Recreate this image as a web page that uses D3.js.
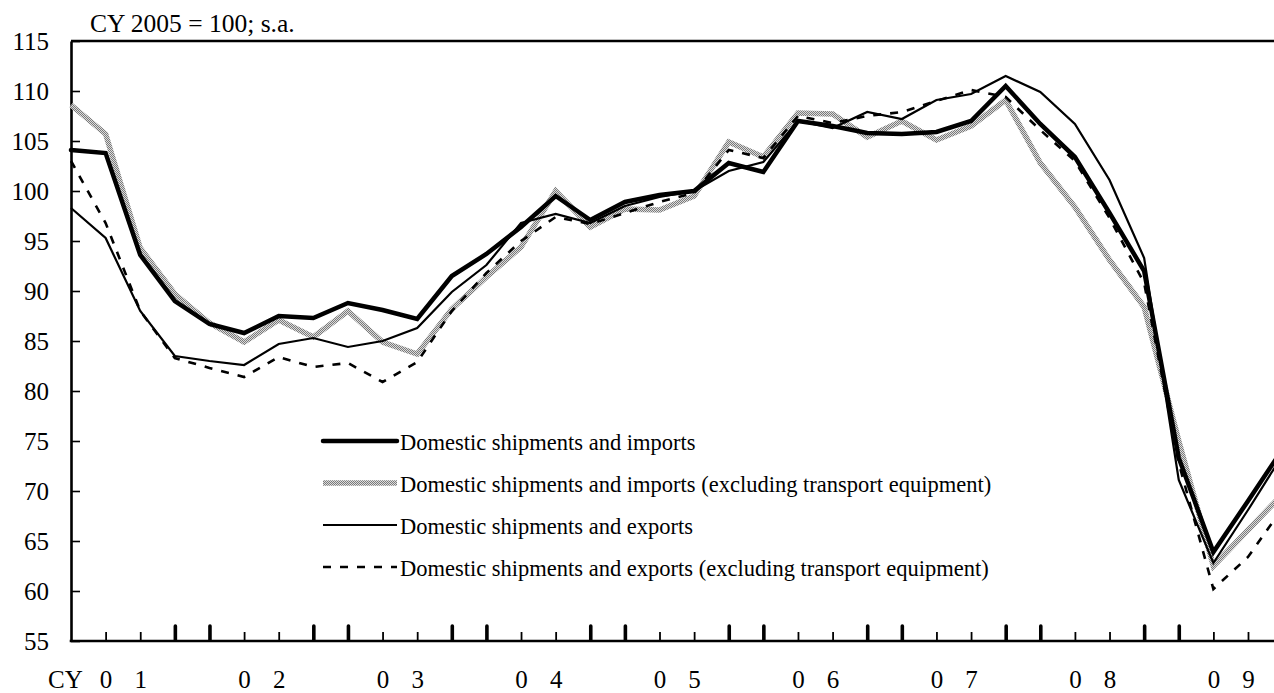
<!DOCTYPE html>
<html>
<head>
<meta charset="utf-8">
<script src="https://cdn.jsdelivr.net/npm/d3@7"></script>
<style>
  html, body { margin: 0; padding: 0; background: #fff; }
  svg { display: block; }
  text { font-family: "Liberation Serif", "Times New Roman", serif; fill: #000; }
</style>
</head>
<body>
<svg id="chart" width="1274" height="693"></svg>
<script>
// ---- data (quarterly, index 0 = CY2001 Q1) ----
const quarters = d3.range(0, 36);
const impTotal = [104.1,103.8,93.6,89.0,86.7,85.8,87.5,87.3,88.8,88.1,87.2,91.5,93.7,96.4,99.5,97.1,98.9,99.6,100.0,102.8,101.9,107.0,106.5,105.8,105.7,105.9,107.0,110.5,106.7,103.4,97.8,92.0,73.3,63.9,69.0,74.2];
const impExTrans = [108.6,105.7,94.3,89.7,86.8,84.9,87.1,85.4,88.0,84.9,83.7,88.2,91.4,94.4,100.0,96.4,98.2,98.1,99.5,104.9,103.4,107.8,107.7,105.4,107.0,105.1,106.5,109.1,102.8,98.4,93.1,88.4,75.0,62.5,66.1,69.7];
const expTotal = [98.3,95.3,88.0,83.5,83.0,82.6,84.7,85.3,84.4,85.0,86.3,89.9,92.6,96.8,97.7,96.8,98.5,99.4,100.0,102.0,102.9,107.0,106.3,107.9,107.2,109.1,109.7,111.5,109.9,106.7,101.1,93.3,71.1,62.8,68.1,73.6];
const expExTrans = [103.0,96.8,88.0,83.3,82.3,81.4,83.4,82.4,82.8,80.9,82.9,88.0,91.8,95.0,97.4,96.7,97.8,98.9,99.8,104.1,103.3,107.5,106.8,107.5,107.9,109.0,110.1,109.4,106.1,103.0,97.3,90.8,72.8,60.2,63.4,68.3];
const yearLabels = ["01","02","03","04","05","06","07","08","09"];
const yTicks = [55,60,65,70,75,80,85,90,95,100,105,110,115];
const seriesNames = [
  "Domestic shipments and imports",
  "Domestic shipments and imports (excluding transport equipment)",
  "Domestic shipments and exports",
  "Domestic shipments and exports (excluding transport equipment)"
];
const unitLabel = "CY 2005 = 100; s.a.";

// ---- layout ----
const W = 1274, H = 693;
const svg = d3.select("#chart");
const x = d3.scaleLinear().domain([0, 34]).range([71, 1248]);
const y = d3.scaleLinear().domain([55, 115]).range([641, 41]);

// hatch pattern for gray series
const defs = svg.append("defs");
const pat = defs.append("pattern").attr("id", "hatch").attr("patternUnits", "userSpaceOnUse")
  .attr("width", 2).attr("height", 2);
pat.append("rect").attr("width", 2).attr("height", 2).attr("fill", "#dcdcdc");
pat.append("rect").attr("x", 0).attr("y", 0).attr("width", 1).attr("height", 1).attr("fill", "#7a7a7a");
pat.append("rect").attr("x", 1).attr("y", 1).attr("width", 1).attr("height", 1).attr("fill", "#7a7a7a");

const styles = [
  { stroke: "#000", width: 4.5, dash: null, cap: "round" },
  { stroke: "url(#hatch)", width: 5.5, dash: null, cap: "butt" },
  { stroke: "#000", width: 2.2, dash: null, cap: "butt" },
  { stroke: "#000", width: 2.6, dash: "8,9", cap: "butt" }
];
const allSeries = [impTotal, impExTrans, expTotal, expExTrans];

// frame: top border
svg.append("line").attr("x1", x(0)).attr("x2", W + 5).attr("y1", y(115)).attr("y2", y(115))
  .attr("stroke", "#000").attr("stroke-width", 2.4);

// y axis
const yAxis = d3.axisLeft(y).tickValues(yTicks).tickSizeInner(-9).tickSizeOuter(0).tickPadding(22);
const gy = svg.append("g").attr("transform", `translate(${x(0)},0)`).call(yAxis);
gy.select(".domain").attr("stroke-width", 2.6);
gy.selectAll(".tick line").attr("stroke-width", 1.6);
gy.selectAll(".tick text").attr("font-size", 25).attr("font-family", "Liberation Serif").attr("fill", "#000");

// lines
const line = d3.line().x((d, i) => x(i)).y(d => y(d));
const drawOrder = [1, 3, 2, 0];
drawOrder.forEach(k => {
  const s = styles[k];
  svg.append("path").datum(allSeries[k]).attr("d", line)
    .attr("fill", "none").attr("stroke", s.stroke).attr("stroke-width", s.width)
    .attr("stroke-linejoin", "miter").attr("stroke-linecap", s.cap)
    .attr("stroke-dasharray", s.dash);
});

// x axis: thin and thick ticks
const thinTicks = quarters.filter(i => i > 0 && i <= 34 && (i % 4 === 1 || i % 4 === 2));
const thickTicks = quarters.filter(i => i > 0 && i <= 34 && (i % 4 === 3 || i % 4 === 0));
const gxThin = svg.append("g").attr("transform", `translate(0,${y(55)})`)
  .call(d3.axisBottom(x).tickValues(thinTicks).tickSizeInner(-9).tickSizeOuter(0).tickFormat(""));
gxThin.select(".domain").remove();
gxThin.selectAll(".tick line").attr("stroke-width", 1.8);
const gxThick = svg.append("g").attr("transform", `translate(0,${y(55)})`)
  .call(d3.axisBottom(x).tickValues(thickTicks).tickSizeInner(-15).tickSizeOuter(0).tickFormat(""));
gxThick.select(".domain").remove();
gxThick.selectAll(".tick line").attr("stroke-width", 3.6).attr("stroke-linecap", "round").attr("y1", -1.5).attr("y2", -15);
// baseline
svg.append("line").attr("x1", x(0) - 1.3).attr("x2", W + 5).attr("y1", y(55)).attr("y2", y(55))
  .attr("stroke", "#000").attr("stroke-width", 2.6);

// x labels: digits split across 2nd and 3rd quarter of each year
const labelPos = [];
yearLabels.forEach((lab, k) => {
  labelPos.push({ i: 4 * k + 1, t: lab[0] });
  labelPos.push({ i: 4 * k + 2, t: lab[1] });
});
const labMap = new Map(labelPos.map(d => [d.i, d.t]));
const gxLab = svg.append("g").attr("transform", `translate(0,${y(55)})`)
  .call(d3.axisBottom(x).tickValues(labelPos.map(d => d.i)).tickSize(0).tickFormat(i => labMap.get(i)));
gxLab.select(".domain").remove();
gxLab.selectAll(".tick text").attr("font-size", 25).attr("font-family", "Liberation Serif")
  .attr("fill", "#000").attr("y", 47).attr("dy", null);
svg.append("text").attr("x", 48).attr("y", 688).attr("font-size", 25).text("CY");

// unit label
svg.append("text").attr("x", 90).attr("y", 32).attr("font-size", 25.5).text(unitLabel);

// legend
const legY = d3.scaleLinear().domain([0, 3]).range([441, 567]);
seriesNames.forEach((name, k) => {
  const s = styles[k];
  const yy = legY(k);
  svg.append("line").attr("x1", 323).attr("x2", 397).attr("y1", yy).attr("y2", yy)
    .attr("stroke", s.stroke).attr("stroke-width", s.width).attr("stroke-linecap", s.cap)
    .attr("stroke-dasharray", s.dash);
  svg.append("text").attr("x", 400).attr("y", yy + 9).attr("font-size", 22.5).text(name);
});
</script>
</body>
</html>
